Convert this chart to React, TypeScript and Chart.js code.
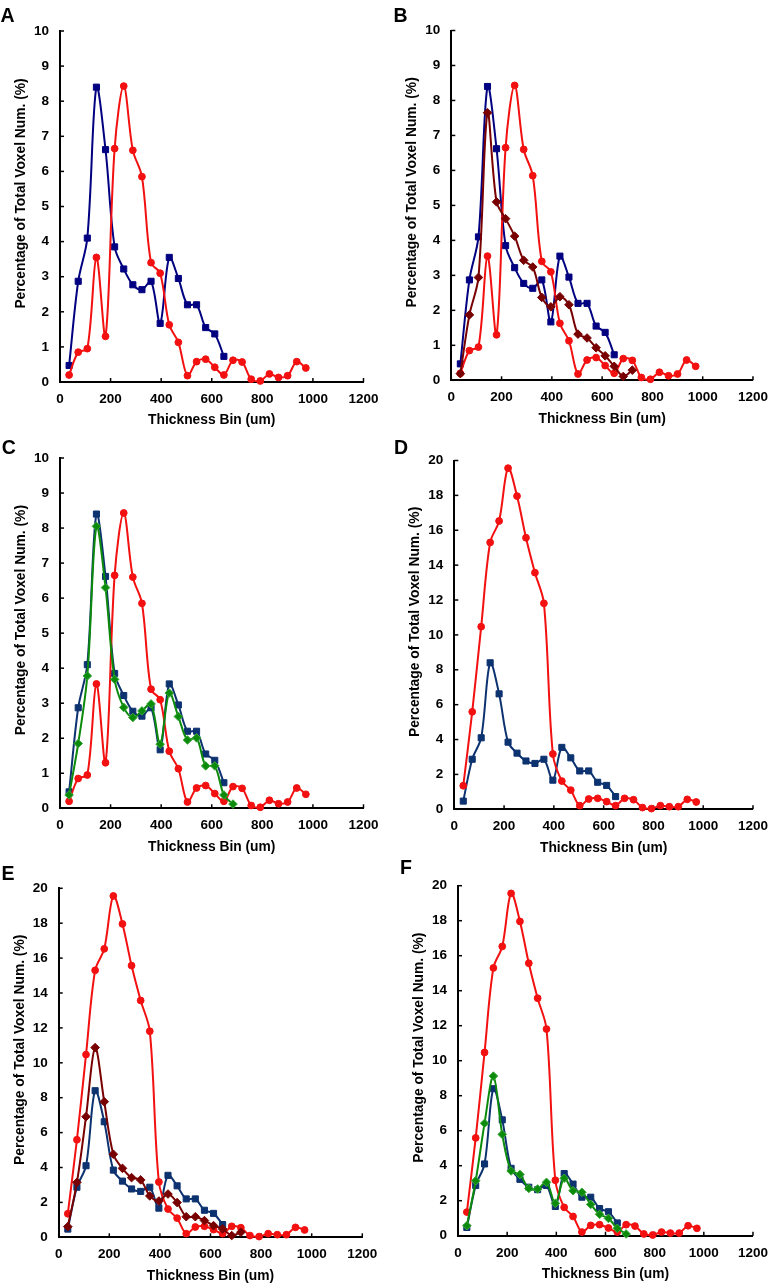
import React, { useEffect, useRef } from "react";
import { Chart, registerables } from "chart.js";

Chart.register(...registerables);

const FONT = "'Liberation Sans', Arial, Helvetica, sans-serif";
const TITLE_SIZE = 13.8;
const TICK_SIZE = 13.5;

// Thickness bin centres (um)
const binX = [36, 72, 108, 144, 180, 216, 252, 288, 324, 360, 396, 432, 468, 504, 540, 576, 612, 648, 684, 720, 756, 792, 828, 864, 900, 936, 972];

const xTickValues = [0, 200, 400, 600, 800, 1000, 1200];
const yTicksLow = [0, 1, 2, 3, 4, 5, 6, 7, 8, 9, 10];
const yTicksHigh = [0, 2, 4, 6, 8, 10, 12, 14, 16, 18, 20];

const xTitle = "Thickness Bin (um)";
const yTitle = "Percentage of Total Voxel Num. (%)";

// Series values (%)
const blueSeries = [0.47, 2.87, 4.1, 8.4, 6.62, 3.85, 3.22, 2.77, 2.63, 2.87, 1.67, 3.55, 2.95, 2.2, 2.2, 1.55, 1.37, 0.73];
const redLow = [0.2, 0.85, 0.95, 3.55, 1.3, 6.65, 8.43, 6.6, 5.85, 3.4, 3.1, 1.63, 1.13, 0.18, 0.58, 0.65, 0.42, 0.2, 0.62, 0.57, 0.08, 0.03, 0.23, 0.13, 0.18, 0.58, 0.4];
const redHigh = [1.35, 5.59, 10.47, 15.3, 16.53, 19.56, 17.96, 15.57, 13.57, 11.81, 3.17, 1.62, 1.1, 0.21, 0.59, 0.63, 0.44, 0.21, 0.63, 0.55, 0.1, 0.04, 0.21, 0.15, 0.15, 0.57, 0.42];
const darkRedB = [0.19, 1.87, 2.94, 7.65, 5.1, 4.62, 4.12, 3.43, 3.24, 2.37, 2.1, 2.39, 2.16, 1.32, 1.21, 0.93, 0.7, 0.4, 0.11, 0.29];
const greenC = [0.38, 1.85, 3.78, 8.05, 6.3, 3.68, 2.88, 2.59, 2.78, 2.98, 1.83, 3.29, 2.62, 1.95, 2.01, 1.21, 1.21, 0.38, 0.12];
const darkRedE = [0.61, 3.15, 6.91, 10.87, 7.77, 4.76, 3.95, 3.42, 3.29, 2.37, 2.08, 2.48, 1.99, 1.18, 1.18, 0.96, 0.67, 0.48, 0.1, 0.29];
const greenF = [0.57, 3.14, 6.42, 9.12, 5.79, 3.7, 3.5, 2.7, 2.67, 3.05, 1.85, 3.28, 2.57, 2.48, 1.79, 1.22, 0.99, 0.42, 0.1];

const NAVY = "#000080";
const BLUE2 = "#0d3270";
const RED = "#f21010";
const DARKRED = "#780000";
const GREEN = "#0b8a0b";

type S = { values: number[]; shape: string; color: string; border: string; radius: number };

const sq = (c: string): S => ({ values: blueSeries, shape: "rect", color: c, border: c, radius: 4.3 });
const redS = (v: number[]): S => ({ values: v, shape: "circle", color: RED, border: RED, radius: 3.4 });
const dia = (v: number[], c: string, b: string): S => ({ values: v, shape: "rectRot", color: c, border: b, radius: 4.3 });

const panels = [
  { letter: "A", lx: 0.5, ly: 8.3, yTicks: yTicksLow, canvas: { left: 0, top: 0, w: 389, h: 435 }, plot: { L: 60, R: 363.5, T: 31, B: 382 }, series: [redS(redLow), sq(NAVY)] },
  { letter: "B", lx: 393.5, ly: 8.3, yTicks: yTicksLow, canvas: { left: 388, top: 0, w: 389, h: 435 }, plot: { L: 451.3, R: 754.7, T: 30.5, B: 380.3 }, series: [dia(darkRedB, DARKRED, DARKRED), redS(redLow), sq(NAVY)] },
  { letter: "C", lx: 1.8, ly: 440, yTicks: yTicksLow, canvas: { left: 0, top: 435, w: 389, h: 425 }, plot: { L: 60, R: 363.5, T: 458, B: 808.3 }, series: [dia(greenC, GREEN, "#3aa83a"), redS(redLow), sq(BLUE2)] },
  { letter: "D", lx: 394, ly: 440.7, yTicks: yTicksHigh, canvas: { left: 388, top: 435, w: 389, h: 425 }, plot: { L: 454.3, R: 758, T: 460.5, B: 809.3 }, series: [redS(redHigh), sq(BLUE2)] },
  { letter: "E", lx: 1.4, ly: 866.7, yTicks: yTicksHigh, canvas: { left: 0, top: 860, w: 389, h: 424 }, plot: { L: 58.7, R: 362.3, T: 888.3, B: 1237.3 }, series: [dia(darkRedE, DARKRED, DARKRED), redS(redHigh), sq(BLUE2)] },
  { letter: "F", lx: 400, ly: 860.7, yTicks: yTicksHigh, canvas: { left: 388, top: 860, w: 389, h: 424 }, plot: { L: 458, R: 761.3, T: 885.7, B: 1235.7 }, series: [dia(greenF, GREEN, "#3aa83a"), redS(redHigh), sq(BLUE2)] },
];

function Panel({ def }: { def: any }) {
  const ref = useRef<HTMLCanvasElement>(null);
  useEffect(() => {
    const c = ref.current!;
    const { canvas, plot } = def;
    const yWidth = plot.L - canvas.left;
    const xHeight = canvas.top + canvas.h - plot.B;
    const padTop = plot.T - canvas.top;
    const padRight = canvas.left + canvas.w - plot.R;
    const titleLH = TITLE_SIZE * 1.2;
    const xTitlePadBottom = Math.max(0, canvas.top + canvas.h - (plot.B + 38.5) - titleLH / 2);

    const ticksPlugin = {
      id: "inwardTicks",
      beforeDatasetsDraw(chart: any) {
        const { ctx, chartArea, scales } = chart;
        ctx.save();
        ctx.strokeStyle = "#000";
        ctx.lineWidth = 1.5;
        scales.x.ticks.forEach((t: any) => {
          const px = scales.x.getPixelForValue(t.value);
          ctx.beginPath();
          ctx.moveTo(px, chartArea.bottom);
          ctx.lineTo(px, chartArea.bottom - 4);
          ctx.stroke();
        });
        scales.y.ticks.forEach((t: any) => {
          const py = scales.y.getPixelForValue(t.value);
          ctx.beginPath();
          ctx.moveTo(chartArea.left, py);
          ctx.lineTo(chartArea.left + 4, py);
          ctx.stroke();
        });
        ctx.restore();
      },
    };
    const yTitlePlugin = {
      id: "yTitle",
      afterDraw(chart: any) {
        const { ctx, chartArea } = chart;
        ctx.save();
        ctx.font = `bold ${TITLE_SIZE}px ${FONT}`;
        ctx.fillStyle = "#000";
        ctx.textAlign = "center";
        ctx.textBaseline = "middle";
        ctx.translate(chartArea.left - 39, (chartArea.top + chartArea.bottom) / 2 - 13);
        ctx.rotate(-Math.PI / 2);
        ctx.fillText(yTitle, 0, 0);
        ctx.restore();
      },
    };

    const chart = new Chart(c, {
      type: "line",
      data: {
        datasets: def.series.map((s: S) => ({
          data: s.values.map((v, i) => ({ x: binX[i], y: v })),
          borderColor: s.color,
          backgroundColor: s.color,
          pointStyle: s.shape,
          pointRadius: s.radius,
          pointHoverRadius: s.radius,
          pointBackgroundColor: s.color,
          pointBorderColor: s.border,
          pointBorderWidth: 1,
          borderWidth: 2,
          tension: 0.33,
          fill: false,
          clip: false,
        })),
      },
      options: {
        responsive: false,
        maintainAspectRatio: false,
        animation: false,
        events: [],
        layout: { padding: { left: 0, top: padTop, right: padRight, bottom: 0 } },
        plugins: { legend: { display: false }, tooltip: { enabled: false } },
        scales: {
          x: {
            type: "linear",
            min: 0,
            max: 1200,
            afterBuildTicks: (axis: any) => {
              axis.ticks = xTickValues.map((value) => ({ value }));
            },
            afterFit: (s: any) => {
              s.height = xHeight;
            },
            grid: { display: false, drawTicks: false },
            border: { display: true, color: "#000", width: 2 },
            ticks: {
              color: "#000",
              padding: 9,
              maxRotation: 0,
              autoSkip: false,
              font: { family: FONT, size: TICK_SIZE, weight: "bold" },
              callback: (v: any) => String(v),
            },
            title: {
              display: true,
              text: xTitle,
              color: "#000",
              font: { family: FONT, size: TITLE_SIZE, weight: "bold", lineHeight: 1.2 },
              padding: { top: 0, bottom: xTitlePadBottom },
            },
          },
          y: {
            type: "linear",
            min: def.yTicks[0],
            max: def.yTicks[def.yTicks.length - 1],
            afterBuildTicks: (axis: any) => {
              axis.ticks = def.yTicks.map((value: number) => ({ value }));
            },
            afterFit: (s: any) => {
              s.width = yWidth;
            },
            grid: { display: false, drawTicks: false },
            border: { display: true, color: "#000", width: 2 },
            ticks: {
              color: "#000",
              padding: 11,
              autoSkip: false,
              font: { family: FONT, size: TICK_SIZE, weight: "bold" },
              callback: (v: any) => String(v),
            },
          },
        },
      } as any,
      plugins: [ticksPlugin, yTitlePlugin],
    });
    return () => chart.destroy();
  }, [def]);

  const { canvas } = def;
  return (
    <>
      <canvas
        ref={ref}
        width={canvas.w}
        height={canvas.h}
        style={{ position: "absolute", left: canvas.left, top: canvas.top, width: canvas.w, height: canvas.h }}
      />
      <div
        style={{
          position: "absolute",
          left: def.lx,
          top: def.ly - 2.5,
          fontFamily: FONT,
          fontWeight: "bold",
          fontSize: 19.5,
          lineHeight: 1,
          color: "#000",
        }}
      >
        {def.letter}
      </div>
    </>
  );
}

export default function App() {
  return (
    <div style={{ position: "absolute", left: 0, top: 0, width: 777, height: 1284, background: "#fff", overflow: "hidden" }}>
      {panels.map((p) => (
        <Panel key={p.letter} def={p} />
      ))}
    </div>
  );
}
